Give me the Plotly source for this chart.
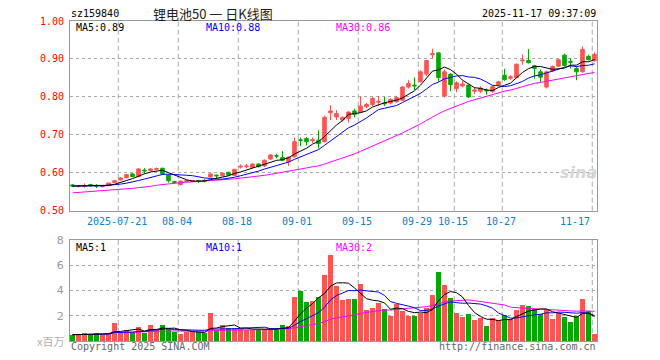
import plotly.graph_objects as go
import pandas as pd

# ---------------- data ----------------
opens = [.568, .564, .564, .569, .566, .563, .566, .574, .581, .587,
         .597, .590, .607, .606, .609, .612, .594, .577, .569, .577,
         .577, .579, .580, .589, .594, .592, .601, .593, .615, .616,
         .614, .623, .618, .636, .645, .640, .629, .642, .687, .690,
         .685, .686, .682, .758, .747, .739, .743, .763, .760, .774,
         .780, .786, .784, .784, .787, .791, .826, .831, .840, .860,
         .911, .916, .802, .860, .822, .829, .831, .815, .815, .818,
         .814, .831, .857, .849, .851, .895, .896, .882, .866, .826,
         .868, .881, .910, .893, .875, .866, .907, .895]
closes = [.565, .566, .566, .566, .565, .565, .573, .579, .586, .595,
          .590, .610, .605, .610, .611, .597, .579, .575, .578, .579,
          .579, .577, .578, .597, .592, .599, .594, .609, .617, .618,
          .623, .616, .633, .647, .644, .633, .641, .682, .685, .682,
          .687, .677, .746, .763, .756, .746, .760, .754, .776, .780,
          .796, .788, .782, .793, .798, .826, .835, .829, .866, .896,
          .914, .851, .866, .832, .837, .834, .800, .818, .823, .816,
          .827, .840, .846, .853, .886, .897, .890, .875, .852, .866,
          .880, .898, .883, .891, .866, .925, .898, .912]
highs = [.570, .568, .572, .571, .570, .566, .574, .581, .588, .597,
         .599, .613, .612, .612, .614, .613, .596, .579, .579, .580,
         .581, .581, .583, .598, .595, .600, .603, .611, .622, .623,
         .625, .625, .635, .649, .650, .657, .643, .692, .693, .694,
         .693, .712, .750, .778, .765, .748, .762, .769, .802, .784,
         .800, .802, .800, .797, .803, .828, .844, .851, .870, .897,
         .927, .917, .872, .862, .841, .842, .832, .826, .828, .822,
         .830, .842, .874, .857, .888, .912, .926, .884, .872, .869,
         .883, .900, .914, .902, .880, .933, .911, .917]
lows = [.563, .561, .561, .564, .560, .562, .565, .573, .580, .585,
        .588, .588, .598, .604, .606, .594, .574, .571, .566, .575,
        .576, .573, .575, .587, .586, .590, .592, .591, .611, .612,
        .612, .614, .616, .634, .638, .631, .618, .640, .670, .672,
        .678, .664, .680, .739, .739, .735, .732, .746, .758, .770,
        .776, .776, .776, .780, .785, .789, .822, .818, .838, .855,
        .901, .840, .798, .815, .812, .825, .797, .808, .810, .806,
        .811, .828, .842, .845, .849, .885, .888, .848, .838, .822,
        .866, .879, .880, .875, .844, .864, .896, .893]
volumes = [0.5, 0.5, 0.65, 0.5, 0.6, 0.5, 0.65, 1.45, 0.6, 0.9,
           0.7, 1.1, 0.6, 1.25, 0.9, 1.25, 1.0, 0.7, 0.55, 0.75,
           0.7, 0.7, 0.65, 2.2, 0.9, 1.25, 1.0, 1.0, 0.95, 0.9,
           0.9, 0.9, 0.95, 1.0, 0.9, 1.3, 1.2, 3.47, 3.94, 3.07,
           3.15, 3.47, 5.2, 6.8, 4.37, 3.23, 3.3, 3.3, 4.5, 2.43,
           2.62, 3.02, 2.52, 1.98, 2.91, 2.36, 1.98, 1.98, 2.25, 2.62,
           3.63, 5.48, 4.42, 3.42, 2.22, 1.9, 2.12, 1.64, 1.8, 1.19,
           1.8, 1.64, 2.09, 1.72, 2.43, 2.83, 2.75, 2.52, 2.17, 2.43,
           1.72, 2.25, 1.88, 1.51, 1.96, 3.3, 2.36, 0.56]
# MA30 of price for the first 29 days (needs history before the window)
ma30_head = [.547, .548, .549, .550, .551, .552, .553, .554, .555, .557,
             .559, .561, .562, .564, .567, .569, .571, .573, .574, .575,
             .576, .577, .578, .579, .580, .581, .583, .584, .586]
date_labels = ["2025-07-21", "08-04", "08-18", "09-01", "09-15",
               "09-29", "10-15", "10-27", "11-17"]
date_index = [8, 18, 28, 38, 48, 58, 64, 72, 87]
price_ticks = [0.5, 0.6, 0.7, 0.8, 0.9, 1.0]
vol_ticks = [2, 4, 6, 8]

# ---------------- derived ----------------
n = len(closes)
idx = list(range(n))
cs = pd.Series(closes)
ma5 = cs.rolling(5, min_periods=1).mean()
ma10 = cs.rolling(10, min_periods=1).mean()
ma30 = cs.rolling(30).mean()
ma30.iloc[:len(ma30_head)] = ma30_head
vs = pd.Series(volumes)
vma5 = vs.rolling(5, min_periods=1).mean()
vma10 = vs.rolling(10, min_periods=1).mean()
vma30 = vs.rolling(30, min_periods=1).mean()

RED = "#ff5454"
GREEN = "#00a800"
BLUE = "#0000ff"
MAG = "#ff00ff"
GRID = "#a8a8a8"
MONO = "DejaVu Sans Mono"
vol_colors = [RED if c >= o else GREEN for o, c in zip(opens, closes)]

fig = go.Figure()
fig.add_trace(go.Candlestick(
    x=idx, open=opens, high=highs, low=lows, close=closes,
    increasing=dict(line=dict(color=RED, width=1), fillcolor=RED),
    decreasing=dict(line=dict(color=GREEN, width=1), fillcolor=GREEN),
    whiskerwidth=0, xaxis="x", yaxis="y", hoverinfo="skip"))
for s, col in [(ma30, MAG), (ma10, BLUE), (ma5, "black")]:
    fig.add_trace(go.Scatter(x=idx, y=s, mode="lines", xaxis="x", yaxis="y",
                             line=dict(color=col, width=1), hoverinfo="skip"))
fig.add_trace(go.Bar(x=idx, y=volumes, marker=dict(color=vol_colors, line=dict(width=0)),
                     width=0.82, xaxis="x2", yaxis="y2", hoverinfo="skip"))
for s, col in [(vma30, MAG), (vma10, BLUE), (vma5, "black")]:
    fig.add_trace(go.Scatter(x=idx, y=s, mode="lines", xaxis="x2", yaxis="y2",
                             line=dict(color=col, width=1), hoverinfo="skip"))

L, R, T, B = 70, 63, 21, 19
W, H = 660, 360
PW, PH = W - L - R, H - T - B


def px(x):
    return (x - L) / PW


def py(y):
    return (H - B - y) / PH


xr = [-0.4167, n - 1 + 0.417]
axis_common = dict(range=xr, showgrid=False, zeroline=False, showticklabels=False,
                   showline=True, mirror=True, linecolor="#999999", linewidth=1,
                   fixedrange=True)
layout = dict(
    width=W, height=H, margin=dict(l=L, r=R, t=T, b=B),
    paper_bgcolor="white", plot_bgcolor="white", showlegend=False,
    bargap=0, boxgap=0.15, hovermode=False,
    xaxis=dict(domain=[0, 1], anchor="y", rangeslider=dict(visible=False), **axis_common),
    xaxis2=dict(domain=[0, 1], anchor="y2", matches="x", **axis_common),
    yaxis=dict(domain=[py(210.7), 1], range=[0.5, 1.0], tickvals=price_ticks,
               ticktext=["%.2f" % v for v in price_ticks],
               tickfont=dict(family=MONO, size=10, color="#ff0000"),
               showgrid=True, gridcolor=GRID, griddash="dot", gridwidth=1,
               zeroline=False, showline=True, mirror=True, linecolor="#999999",
               ticks="outside", ticklen=3, tickcolor="rgba(0,0,0,0)", fixedrange=True),
    yaxis2=dict(domain=[0, py(240)], range=[0, 8], tickvals=vol_ticks,
                ticktext=[str(v) for v in vol_ticks],
                tickfont=dict(family="DejaVu Sans", size=11, color="#999999"),
                showgrid=True, gridcolor=GRID, griddash="dot", gridwidth=1,
                zeroline=False, showline=True, mirror=True, linecolor="#999999",
                ticks="outside", ticklen=3, tickcolor="rgba(0,0,0,0)", fixedrange=True),
)
fig.update_layout(**layout)

shapes = []
for k in date_index:
    for yr in ["y domain", "y2 domain"]:
        shapes.append(dict(type="line", xref="x", yref=yr, x0=k - 0.37, x1=k - 0.37,
                           y0=0, y1=1, line=dict(color=GRID, width=1, dash="5px,3px"),
                           layer="below"))
fig.update_layout(shapes=shapes)

anns = []


def ann(text, x, y, color="black", size=10, family=MONO, xanchor="left"):
    anns.append(dict(text=text, x=px(x), y=py(y), xref="paper", yref="paper",
                     showarrow=False, xanchor=xanchor, yanchor="middle",
                     font=dict(color=color, size=size, family=family)))


ann("sz159840", 69, 13)
ann("锂电池50 一 日K线图", 213, 13, color="#222222", size=13,
    family="Noto Sans CJK SC", xanchor="center")
ann("2025-11-17 09:37:09", 598, 13, xanchor="right")
ann("MA5:0.89", 74, 27)
ann("MA10:0.88", 204, 27, color=BLUE)
ann("MA30:0.86", 334, 27, color=MAG)
ann("MA5:1", 74, 247)
ann("MA10:1", 204, 247, color=BLUE)
ann("MA30:2", 334, 247, color=MAG)
date_color = "#0a80d0"
for lab, k in zip(date_labels, date_index):
    gx = 70.3 + 6 * k
    if lab == "11-17":
        ann(lab, 591.5, 221, color=date_color, xanchor="right")
    else:
        ann(lab, gx - 1.5, 221, color=date_color, xanchor="center")
ann("x百万", 66, 341, color="#b0b0b0", size=11, family="Noto Sans CJK SC", xanchor="right")
ann("Copyright 2025 SINA.COM", 69, 346, color="#666666")
ann("http://finance.sina.com.cn", 598, 346, color="#666666", xanchor="right")
ann("<b><i>sina</i></b>", 578, 172, color="#d6d6d6", size=16, family="DejaVu Sans",
    xanchor="center")
fig.update_layout(annotations=anns)

fig.write_html("out.html", config={"displayModeBar": False, "staticPlot": True},
               post_script="document.body.style.margin='0px';")
